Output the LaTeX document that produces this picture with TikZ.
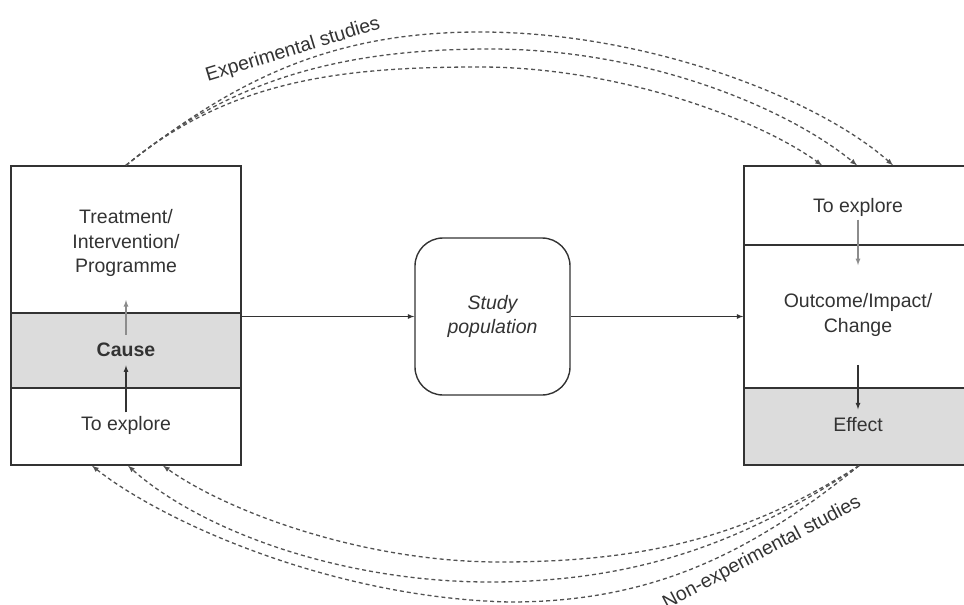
\documentclass[tikz,border=0pt]{standalone}
\usepackage{fontspec}
\setmainfont{Liberation Sans}
\usetikzlibrary{calc, arrows.meta}
\tikzset{>=latex}
\definecolor{ink}{HTML}{333333}
\definecolor{bandgray}{HTML}{DCDCDC}
\definecolor{lightink}{HTML}{8C8C8C}
\tikzset{
  part/.style={draw=ink, line width=1.4pt, minimum width=230, minimum height=#1, inner sep=0pt},
  txt/.style={align=center, text=ink, font=\fontsize{19.5}{24.5}\selectfont},
  study/.style={draw=ink, line width=1.4pt, rounded corners=28, minimum width=155, minimum height=157, align=center, text=ink, font=\fontsize{19.5}{24.5}\selectfont\itshape},
  flow/.style={draw=ink, line width=1.2pt, ->},
  route/.style={draw=ink!85, line width=1.3pt, dash pattern=on 4pt off 3pt, ->}
}

\begin{document}
\begin{tikzpicture}[x=1pt, y=-1pt]
\useasboundingbox (0,0) rectangle (964,605);
% cause side
\node[part=299] (lbox) at (126,315.5) {};
\node[part=75, fill=bandgray] (lband) at (126,350.5) {};
\node[txt] (treat) at (126,243) {Treatment/\\Intervention/\\Programme};
\node[txt, font=\fontsize{19.5}{24.5}\selectfont\bfseries] (cause) at (126,350) {Cause};
\node[txt] (lexplore) at (126,425) {To explore};
\draw[flow, draw=lightink] (cause.north) -- (treat.south) [shorten <=5pt, shorten >=20pt];
\draw[flow] (lexplore.north) -- (cause.south) [shorten >=5pt];

% effect side
\node[part=299] (rbox) at (859,315.5) {};
\node[part=79] (rtop) at (859,205.5) {};
\node[part=77, fill=bandgray] (rband) at (859,426.5) {};
\node[txt] (rexplore) at (858,207) {To explore};
\node[txt] (outcome) at (858,315) {Outcome/Impact/\\Change};
\node[txt] (effect) at (858,425) {Effect};
\draw[flow, draw=lightink] (rexplore.south) -- (outcome.north) [shorten >=25pt];
\draw[flow] (outcome.south) -- (effect.north) [shorten <=25pt, shorten >=5pt];

% study population
\node[study] (study) at (492.5,316.5) {Study\\population};
\draw[flow] (lbox.east |- study.west) -- (study.west);
\draw[flow] (study.east) -- (study.east -| rbox.west);

% experimental studies
\coordinate (e1) at ($(rbox.north)+(-37,0)$);
\coordinate (e2) at ($(rbox.north)+(-2,0)$);
\coordinate (e3) at ($(rbox.north)+(34,0)$);
\draw[route] (lbox.north) .. controls (230,80) and (340,67) .. (480,67)
  .. controls (620,67) and (760,120) .. (e1);
\draw[route] (lbox.north) .. controls (230,80) and (340,49) .. (490,49)
  .. controls (650,49) and (790,110) .. (e2);
\draw[route] (lbox.north) .. controls (235,80) and (330,32) .. (480,32)
  .. controls (650,32) and (820,100) .. (e3);
\node[txt, rotate=17] (exp) at (293,50) {Experimental studies};

% non-experimental studies
\coordinate (n1) at ($(lbox.south)+(37,0)$);
\coordinate (n2) at ($(lbox.south)+(2,0)$);
\coordinate (n3) at ($(lbox.south)+(-34,0)$);
\draw[route] (rbox.south) .. controls (749,535) and (650,562) .. (500,562)
  .. controls (360,562) and (225,510) .. (n1);
\draw[route] (rbox.south) .. controls (749,540) and (640,582) .. (490,582)
  .. controls (340,582) and (200,530) .. (n2);
\draw[route] (rbox.south) .. controls (749,555) and (650,602) .. (510,602)
  .. controls (330,598) and (160,520) .. (n3);
\node[txt, rotate=28] (nonexp) at (762,553) {Non-experimental studies};
\end{tikzpicture}
\end{document}
